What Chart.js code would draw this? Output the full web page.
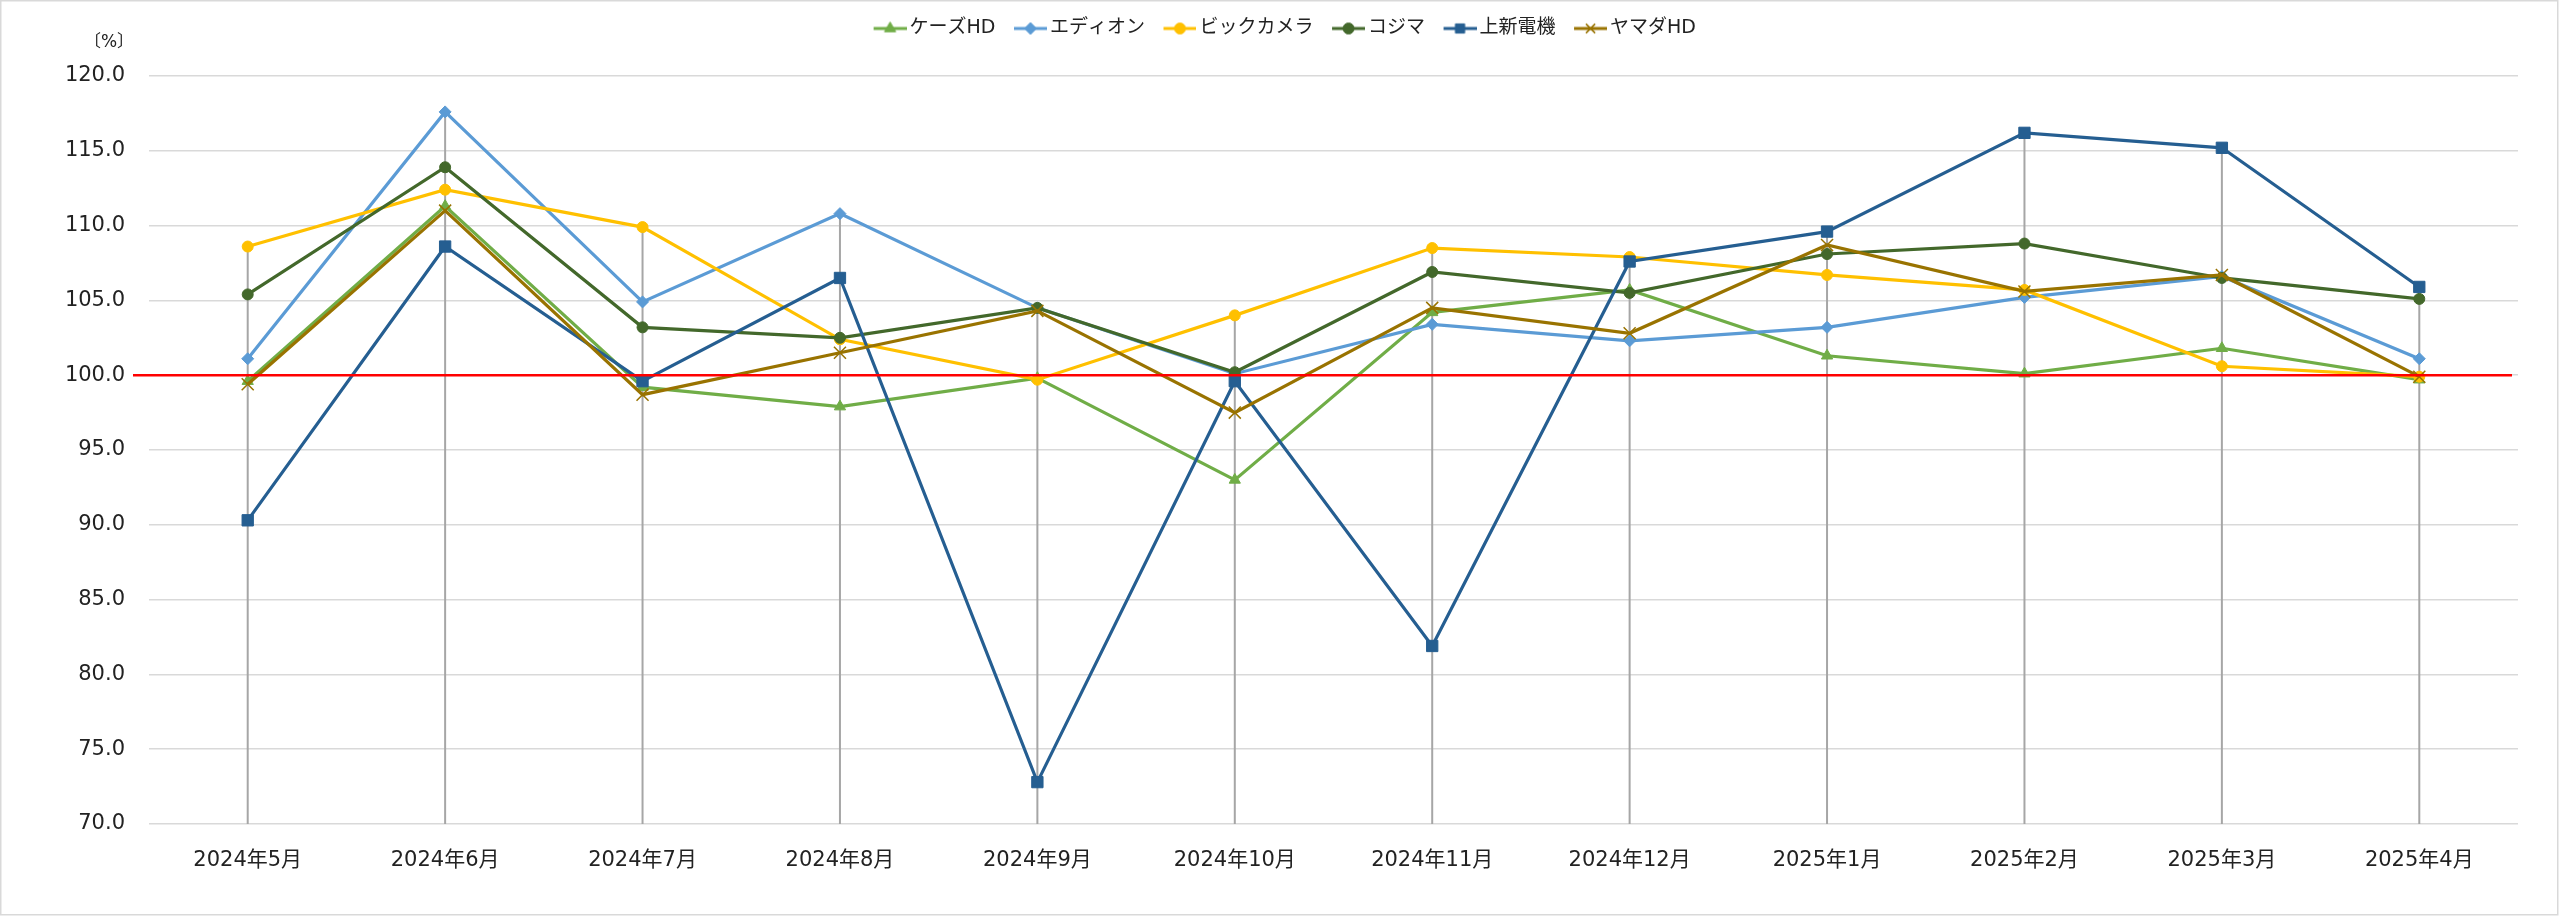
<!DOCTYPE html>
<html lang="ja">
<head>
<meta charset="utf-8">
<title>家電量販店 月次売上 前年同月比</title>
<script src="https://cdn.jsdelivr.net/npm/chart.js@4.4.1/dist/chart.umd.min.js"></script>
<style>
  html, body { margin: 0; padding: 0; background: #fff; }
  canvas { display: block; }
</style>
</head>
<body>
<canvas id="chart" width="2560" height="916"></canvas>
<script>
const months = ['2024年5月', '2024年6月', '2024年7月', '2024年8月', '2024年9月', '2024年10月',
  '2024年11月', '2024年12月', '2025年1月', '2025年2月', '2025年3月', '2025年4月'];

const ksHd     = [99.6, 111.3, 99.2, 97.9, 99.8, 93.0, 104.2, 105.7, 101.3, 100.1, 101.8, 99.7];
const edion    = [101.1, 117.6, 104.9, 110.8, 104.5, 100.1, 103.4, 102.3, 103.2, 105.2, 106.6, 101.1];
const bicCamera = [108.6, 112.4, 109.9, 102.4, 99.7, 104.0, 108.5, 107.9, 106.7, 105.7, 100.6, 99.9];
const kojima   = [105.4, 113.9, 103.2, 102.5, 104.5, 100.2, 106.9, 105.5, 108.1, 108.8, 106.5, 105.1];
const joshin   = [90.3, 108.6, 99.6, 106.5, 72.8, 99.6, 81.9, 107.6, 109.6, 116.2, 115.2, 105.9];
const yamadaHd = [99.4, 111.0, 98.7, 101.5, 104.3, 97.5, 104.5, 102.8, 108.7, 105.6, 106.7, 99.9];

const yTicks = { min: 70, max: 120, step: 5 };
const baseLine = 100;
const unitLabel = '〔%〕';

const FONT = "'DejaVu Sans', 'Noto Sans CJK JP', sans-serif";
const TEXT = '#222';

function series(label, data, color, style, radius, bw) {
  return {
    label, data,
    borderColor: color,
    backgroundColor: color,
    borderWidth: 3.2,
    tension: 0,
    pointStyle: style,
    pointRadius: radius,
    pointHoverRadius: radius,
    pointBackgroundColor: color,
    pointBorderColor: color,
    pointBorderWidth: bw
  };
}

const datasets = [
  series('ケーズHD', ksHd, '#70AD47', 'triangle', 6.5, 1),
  series('エディオン', edion, '#5B9BD5', 'rectRot', 6, 1),
  series('ビックカメラ', bicCamera, '#FFC000', 'circle', 5.5, 1),
  series('コジマ', kojima, '#43682B', 'circle', 5.5, 1),
  series('上新電機', joshin, '#255E91', 'rect', 8, 1),
  series('ヤマダHD', yamadaHd, '#997300', 'crossRot', 8.5, 1.5)
];
// Excel draws later series on top
datasets.forEach((ds, i) => ds.order = datasets.length - 1 - i);

// legend swatch: line with the marker in the middle
function legendIcon(ds) {
  const c = document.createElement('canvas');
  c.width = 49;
  c.height = 20;
  const g = c.getContext('2d');
  g.strokeStyle = ds.borderColor;
  g.lineWidth = 3;
  g.beginPath();
  g.moveTo(16, 10);
  g.lineTo(49, 10);
  g.stroke();
  g.fillStyle = ds.pointBackgroundColor;
  g.strokeStyle = ds.pointBorderColor;
  g.lineWidth = ds.pointBorderWidth;
  Chart.helpers.drawPoint(g, {
    pointStyle: ds.pointStyle,
    radius: Math.min(ds.pointRadius, 6.5),
    rotation: 0,
    borderWidth: ds.pointBorderWidth
  }, 32.5, 10);
  return c;
}
const icons = datasets.map(legendIcon);

const legendGap = {
  id: 'legendGap',
  beforeInit(chart) {
    const fit = chart.legend.fit;
    chart.legend.fit = function () {
      fit.call(this);
      this.height += 28;
    };
  }
};

const dropLines = {
  id: 'dropLines',
  beforeDatasetsDraw(chart) {
    const { ctx, chartArea, scales } = chart;
    ctx.save();
    ctx.strokeStyle = '#A6A6A6';
    ctx.lineWidth = 2;
    months.forEach((m, i) => {
      const top = Math.max(...chart.data.datasets.map(ds => ds.data[i]));
      const x = scales.x.getPixelForValue(i);
      ctx.beginPath();
      ctx.moveTo(x, scales.y.getPixelForValue(top));
      ctx.lineTo(x, chartArea.bottom);
      ctx.stroke();
    });
    ctx.restore();
  }
};

const decorations = {
  id: 'decorations',
  afterDatasetsDraw(chart) {
    const { ctx, chartArea, scales } = chart;
    const y = scales.y.getPixelForValue(baseLine);
    ctx.save();
    ctx.strokeStyle = '#FF0000';
    ctx.lineWidth = 2.5;
    ctx.beginPath();
    ctx.moveTo(chartArea.left - 16, y);
    ctx.lineTo(chartArea.right - 6, y);
    ctx.stroke();
    ctx.restore();
  },
  afterDraw(chart) {
    const { ctx, chartArea, width, height } = chart;
    ctx.save();
    ctx.fillStyle = TEXT;
    ctx.font = "17px " + FONT;
    ctx.textAlign = 'center';
    ctx.textBaseline = 'middle';
    ctx.fillText(unitLabel, chartArea.left - 40, chartArea.top - 33);
    ctx.strokeStyle = '#D9D9D9';
    ctx.lineWidth = 1.5;
    ctx.strokeRect(0.75, 0.75, width - 3, height - 2);
    ctx.restore();
  }
};

Chart.defaults.font.family = FONT;
Chart.defaults.color = TEXT;

new Chart(document.getElementById('chart'), {
  type: 'line',
  data: { labels: months, datasets },
  options: {
    responsive: false,
    animation: false,
    layout: { padding: { top: 10, left: 42, right: 42, bottom: 0 } },
    plugins: {
      tooltip: { enabled: false },
      legend: {
        position: 'top',
        labels: {
          usePointStyle: true,
          pointStyleWidth: 36,
          padding: 9,
          font: { size: 19 },
          color: TEXT,
          generateLabels: (chart) => chart.data.datasets.map((ds, i) => ({
            text: ds.label,
            pointStyle: icons[i],
            datasetIndex: i,
            hidden: false,
            lineWidth: 0,
            fillStyle: ds.borderColor,
            strokeStyle: ds.borderColor,
            fontColor: TEXT
          }))
        }
      }
    },
    scales: {
      x: {
        offset: true,
        grid: { display: false, drawTicks: false },
        border: { display: false },
        ticks: { padding: 24, font: { size: 21 }, color: TEXT, maxRotation: 0, autoSkip: false },
        afterFit: (scale) => { scale.height = 92; }
      },
      y: {
        min: yTicks.min,
        max: yTicks.max,
        grid: { color: '#D9D9D9', lineWidth: 1.5, drawTicks: false },
        border: { display: false },
        ticks: {
          stepSize: yTicks.step,
          padding: 24,
          font: { size: 21 },
          color: TEXT,
          callback: (v) => Number(v).toFixed(1)
        },
        afterFit: (scale) => { scale.width = 107; }
      }
    }
  },
  plugins: [legendGap, dropLines, decorations]
});
</script>
</body>
</html>
